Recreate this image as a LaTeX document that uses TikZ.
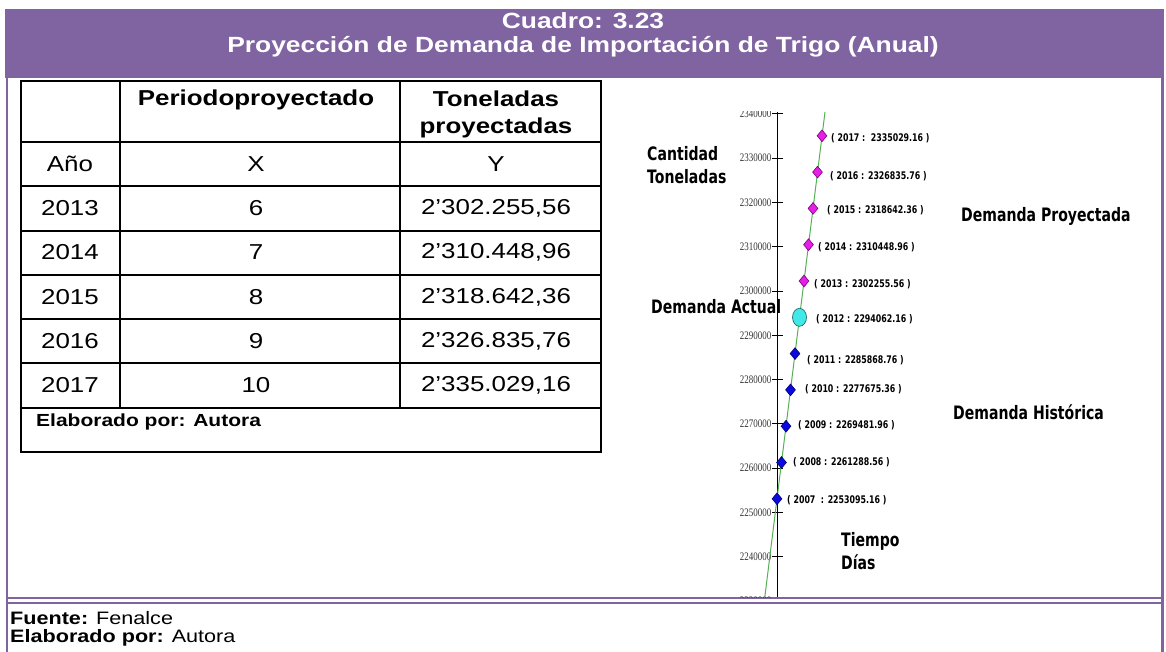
\documentclass[tikz,border=0pt]{standalone}
\usepackage{fontspec}
\setmainfont{Liberation Sans}[FakeStretch=1.2]
\newfontfamily\tahfont{DejaVu Sans}[FakeStretch=0.76]
\newfontfamily\tahsmall{DejaVu Sans}[FakeStretch=0.75]
\newfontfamily\tickfont{Liberation Serif}[FakeStretch=0.78]
\usetikzlibrary{shapes.geometric}
\definecolor{hdr}{HTML}{8064A2}
\definecolor{magfill}{HTML}{E61EE6}
\definecolor{magline}{HTML}{7A007A}
\definecolor{bluefill}{HTML}{0A0AE0}
\definecolor{blueline}{HTML}{000070}
\definecolor{cyanfill}{HTML}{40E8E8}
\definecolor{cyanline}{HTML}{106060}
\definecolor{trend}{HTML}{55B055}
\tikzset{
  titletext/.style={text=white, font=\bfseries\fontsize{22}{24}\selectfont, inner sep=0},
  cell/.style={font=\fontsize{21.6}{24}\selectfont, inner sep=0},
  headcell/.style={font=\bfseries\fontsize{21.6}{27}\selectfont, inner sep=0},
  notetext/.style={font=\fontsize{18}{19}\selectfont, inner sep=0, anchor=west},
  tablerule/.style={line width=1.6pt, black},
  frameline/.style={hdr, line width=2.5pt},
  dblline/.style={hdr, line width=1.6pt},
  axisline/.style={black, line width=1.4pt},
  ticklabel/.style={font=\tickfont\fontsize{11.5}{11.5}\selectfont, text=black!80, inner sep=0, anchor=east},
  trendline/.style={trend, line width=1pt},
  projpt/.style={diamond, draw=magline, fill=magfill, line width=0.6pt, minimum width=10pt, minimum height=12pt, inner sep=0},
  histpt/.style={diamond, draw=blueline, fill=bluefill, line width=0.6pt, minimum width=10pt, minimum height=12pt, inner sep=0},
  curpt/.style={ellipse, draw=cyanline, fill=cyanfill, line width=0.6pt, minimum width=14pt, minimum height=18pt, inner sep=0},
  ptlabel/.style={font=\tahsmall\bfseries\fontsize{10.5}{11}\selectfont, inner sep=0, anchor=west},
  biglabel/.style={font=\tahfont\bfseries\fontsize{18.5}{23.5}\selectfont, inner sep=0, align=left},
}
\begin{document}
\begin{tikzpicture}[x=1pt,y=-1pt]
\useasboundingbox (0,0) rectangle (1166,652);
% header band
\fill[hdr] (5,9) rectangle (1164,78);
\node[titletext] (t1) at (583,21) {Cuadro: 3.23};
\node[titletext] (t2) at (583,47) {Proyección de Demanda de Importación de Trigo (Anual)};
% frame
\draw[frameline] (7,78) -- (7,652);
\draw[frameline] (1162.5,78) -- (1162.5,652);
\draw[dblline] (8,598) -- (1163,598);
\draw[dblline] (8,603) -- (1163,603);
% table rules
\draw[tablerule] (21,81) rectangle (601,452);
\foreach \yy in {142,186,231,275,319,363,408} \draw[tablerule] (21,\yy) -- (601,\yy);
\draw[tablerule] (120,81) -- (120,408);
\draw[tablerule] (400,81) -- (400,408);
% table header
\node[headcell] (hx) at (256,100) {Periodoproyectado};
\node[headcell, align=center] (hy) at (496,114) {Toneladas\\proyectadas};
\node[cell] (ano) at (70,164) {Año};
\node[cell] (cx) at (256,164) {X};
\node[cell] (cy) at (496,164) {Y};
% table body
\node[cell] (a1) at (70,208) {2013}; \node[cell] (x1) at (256,208) {6};  \node[cell] (y1) at (496,208) {2’302.255,56};
\node[cell] (a2) at (70,252) {2014}; \node[cell] (x2) at (256,252) {7};  \node[cell] (y2) at (496,252) {2’310.448,96};
\node[cell] (a3) at (70,297) {2015}; \node[cell] (x3) at (256,297) {8};  \node[cell] (y3) at (496,297) {2’318.642,36};
\node[cell] (a4) at (70,341) {2016}; \node[cell] (x4) at (256,341) {9};  \node[cell] (y4) at (496,341) {2’326.835,76};
\node[cell] (a5) at (70,385) {2017}; \node[cell] (x5) at (256,385) {10}; \node[cell] (y5) at (496,385) {2’335.029,16};
\node[notetext, font=\bfseries\fontsize{17.5}{19}\selectfont] (tnote) at (36,422) {Elaborado por: Autora};
% footer
\node[notetext] (src) at (10,618) {\textbf{Fuente:} Fenalce};
\node[notetext] (auth) at (10,638) {\textbf{Elaborado por:} Autora};
% chart
\begin{scope}
\clip (600,112) rectangle (1160,597);
\coordinate (atop) at (777.5,112);
\coordinate (abot) at (777.5,597);
\draw[axisline] (atop) -- (abot);
\foreach \yy/\lab in {113.8/2340000,158.1/2330000,202.4/2320000,246.7/2310000,291/2300000,335.3/2290000,379.6/2280000,423.9/2270000,468.2/2260000,512.5/2250000,556.8/2240000,601.1/2230000}{
  \draw[black, line width=0.9pt] (772,\yy) -- (783,\yy);
  \node[ticklabel] (tk\lab) at (771.5,\yy) {\lab};
}
\coordinate (gtop) at (825,112);
\coordinate (gbot) at (764.8,597);
\draw[trendline] (gtop) -- (gbot);
% points
\node[histpt] (p2007) at (777,498.8) {};
\node[histpt] (p2008) at (781.5,462.5) {};
\node[histpt] (p2009) at (786,426.2) {};
\node[histpt] (p2010) at (790.5,389.9) {};
\node[histpt] (p2011) at (795,353.6) {};
\node[curpt]  (p2012) at (799.5,317.3) {};
\node[projpt] (p2013) at (804,281) {};
\node[projpt] (p2014) at (808.5,244.7) {};
\node[projpt] (p2015) at (813,208.4) {};
\node[projpt] (p2016) at (817.5,172.1) {};
\node[projpt] (p2017) at (822,135.8) {};
% point labels
\node[ptlabel] (l2017) at (831,138.5) {( 2017 :\ \ 2335029.16 )};
\node[ptlabel] (l2016) at (830,176) {( 2016 : 2326835.76 )};
\node[ptlabel] (l2015) at (827,210.5) {( 2015 : 2318642.36 )};
\node[ptlabel] (l2014) at (818,247) {( 2014 : 2310448.96 )};
\node[ptlabel] (l2013) at (814,284) {( 2013 : 2302255.56 )};
\node[ptlabel] (l2012) at (816,319) {( 2012 : 2294062.16 )};
\node[ptlabel] (l2011) at (807,360) {( 2011 : 2285868.76 )};
\node[ptlabel] (l2010) at (805,389) {( 2010 : 2277675.36 )};
\node[ptlabel] (l2009) at (798,425.5) {( 2009 : 2269481.96 )};
\node[ptlabel] (l2008) at (793,462.5) {( 2008 : 2261288.56 )};
\node[ptlabel] (l2007) at (787,500.5) {( 2007\ \ : 2253095.16 )};
% big labels
\node[biglabel, anchor=north west] (qty) at (647,146) {Cantidad\\Toneladas};
\node[biglabel, anchor=west] (dact) at (651,307) {Demanda Actual};
\node[biglabel, anchor=west] (dproj) at (961,216) {Demanda Proyectada};
\node[biglabel, anchor=west] (dhist) at (953,412) {Demanda Histórica};
\node[biglabel, anchor=north west] (time) at (841,532) {Tiempo\\Días};
\end{scope}
\end{tikzpicture}
\end{document}
